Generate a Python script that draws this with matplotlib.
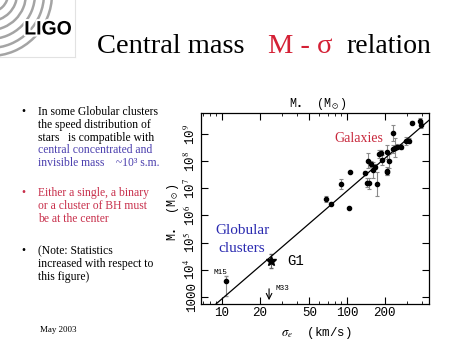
import matplotlib
matplotlib.use("Agg")
import matplotlib.pyplot as plt
import matplotlib.patheffects as pe
from matplotlib.patches import Arc
import numpy as np

plt.rcParams['mathtext.fontset'] = 'stix'

# DADOS
# galaxias: dispersao de velocidade (km/s), log10 da massa, erro (dex)
sigma_gal = [67.6, 74.5, 103.7, 89.5, 105.7, 139, 146, 143.6, 151, 155.6,
             160, 167.5, 175, 180, 187, 189.5, 208, 210, 210, 218,
             232, 235, 242, 250, 269, 297, 315, 333, 384, 389]
logm_gal = [6.60, 6.43, 6.29, 7.16, 7.61, 7.58, 8.01, 7.21, 7.19, 7.89,
            7.68, 7.80, 7.15, 8.26, 8.31, 8.04, 7.64, 7.59, 8.33, 8.00,
            9.03, 8.45, 8.50, 8.53, 8.53, 8.75, 8.75, 9.42, 9.49, 9.33]
err_gal = [0.12, 0.05, 0.0, 0.17, 0.0, 0.05, 0.28, 0.15, 0.2, 0.12,
           0.3, 0.1, 0.45, 0.15, 0.1, 0.2, 0.15, 0.1, 0.25, 0.25,
           0.3, 0.15, 0.35, 0.1, 0.1, 0.15, 0.1, 0.05, 0.1, 0.1]

# aglomerados globulares
m15_sigma, m15_logm, m15_lo, m15_hi = 10.7, 3.57, 0.55, 0.2
g1_sigma, g1_logm, g1_err = 24.7, 4.33, 0.25
m33_sigma, m33_logm = 23.8, 3.30

# reta M - sigma (extremos)
fit_sigma = [8.9, 460]
fit_logm = [2.73, 9.53]

xtick_vals = [10, 20, 50, 100, 200]
xtick_labels = ["10", "20", "50", "100", "200"]
ytick_vals = [1e3, 1e4, 1e5, 1e6, 1e7, 1e8, 1e9]
ytick_labels = ["1000", "10$^4$", "10$^5$", "10$^6$", "10$^7$", "10$^8$", "10$^9$"]

bullets = [
    (["In some Globular clusters", "the speed distribution of",
      "stars   is compatible with"], "black", 112, True),
    (["central concentrated and", "invisible mass    ~10\u00b3 s.m."], "#4b3fae", 150, False),
    (["Either a single, a binary", "or a cluster of BH must",
      "be at the center"], "#c8304c", 193, True),
    (["(Note: Statistics", "increased with respect to",
      "this figure)"], "black", 251, True),
]

W, H = 474, 355
fig = plt.figure(figsize=(W / 100, H / 100), dpi=100)

# FUNDO DO SLIDE EM PIXELS
bg = fig.add_axes([0, 0, 1, 1])
bg.set_xlim(0, W)
bg.set_ylim(H, 0)
bg.axis("off")

# LOGO
for r in [18, 27, 36, 45, 54, 62]:
    bg.add_patch(Arc((-10, -6), 2 * r, 2 * r, theta1=0, theta2=360,
                     color="#a4a4a4", lw=1.8))
bg.plot([75, 75], [0, 57], color="#e2e2e2", lw=0.8)
bg.plot([0, 75], [57, 57], color="#e2e2e2", lw=0.8)
bg.text(48, 30, "LIGO", family="Liberation Sans", weight="bold", fontsize=14,
        ha="center", va="center",
        path_effects=[pe.withStroke(linewidth=3, foreground="white")])

# TITULO
serif = "Liberation Serif"
bg.text(97, 53, "Central mass", family=serif, fontsize=20.5, va="baseline")
bg.text(268, 53, "M - \u03c3", family=serif, fontsize=20.5, va="baseline", color="#d42035")
bg.text(346, 53, "relation", family=serif, fontsize=20, va="baseline")

# TEXTO
for lines, color, y0, has_bullet in bullets:
    if has_bullet:
        bg.text(23, y0, "\u2022", family=serif, fontsize=8.4, color=color,
                ha="center", va="center")
    for i, line in enumerate(lines):
        bg.text(38, y0 + i * 12.8, line, family=serif, fontsize=8.4,
                color=color, va="center")
bg.text(40, 330, "May 2003", family=serif, fontsize=6.5, va="center")

# GRAFICO
ax = fig.add_axes([200.5 / W, 1 - 304 / H, 228.5 / W, 191 / H])
ax.set_xscale("log")
ax.set_yscale("log")

m_gal = 10 ** np.array(logm_gal)
e = np.array(err_gal)
ax.errorbar(sigma_gal, m_gal, yerr=[m_gal - m_gal * 10 ** -e, m_gal * 10 ** e - m_gal],
            fmt="none", ecolor="#8a8a8a", elinewidth=0.8, capsize=1.5, capthick=0.8)
ax.plot(sigma_gal, m_gal, "o", color="black", ms=3)

m15 = 10 ** m15_logm
ax.errorbar([m15_sigma], [m15], yerr=[[m15 - m15 * 10 ** -m15_lo], [m15 * 10 ** m15_hi - m15]],
            fmt="o", color="black", ms=3, ecolor="#8a8a8a", elinewidth=0.8,
            capsize=1.5)
g1 = 10 ** g1_logm
ax.errorbar([g1_sigma], [g1], yerr=[[g1 - g1 * 10 ** -g1_err], [g1 * 10 ** g1_err - g1]],
            fmt="*", color="black", ms=7, ecolor="#666666", elinewidth=0.8, capsize=1.5)
ax.annotate("", xy=(m33_sigma, 10 ** (m33_logm - 0.42)), xytext=(m33_sigma, 10 ** m33_logm),
            arrowprops=dict(arrowstyle="->", color="black", lw=0.8, shrinkA=0, shrinkB=0))

ax.plot(fit_sigma, 10 ** np.array(fit_logm), color="black", lw=0.9)

ax.set_xlim(6.73, 453)
ax.set_ylim(10 ** 2.74, 10 ** 9.77)

mono = "Liberation Mono"
ax.set_xticks(xtick_vals)
ax.set_xticklabels(xtick_labels, family=mono, fontsize=9)
ax.set_yticks(ytick_vals)
ax.set_yticklabels(ytick_labels, family=mono, fontsize=9, rotation=90, va="center")
ax.tick_params(which="both", direction="in", top=True, right=True)
ax.tick_params(which="major", length=5, width=0.8, pad=2)
ax.tick_params(which="minor", length=2.5, width=0.6)
for s in ax.spines.values():
    s.set_linewidth(0.9)

bg.text(318, 104, r"M$_\bullet$  (M$_\odot$)", family=mono, fontsize=8.5,
        ha="center", va="center")
bg.text(173, 212, r"M$_\bullet$  (M$_\odot$)", family=mono, fontsize=8.5,
        ha="center", va="center", rotation=90)
bg.text(316, 333, r"$\sigma_e$  (km/s)", family=mono, fontsize=9,
        ha="center", va="center")

# ROTULOS (em pixels, desenhados por cima do grafico)
px = bg.transData
ax.text(359, 138, "Galaxies", family=serif, fontsize=10, color="#c8283c",
        ha="center", va="center", transform=px)
ax.text(243, 231, "Globular", family=serif, fontsize=11, color="#2a2ab0",
        ha="center", va="center", transform=px)
ax.text(242, 249, "clusters", family=serif, fontsize=11, color="#2a2ab0",
        ha="center", va="center", transform=px)
ax.text(296, 261, "G1", family=mono, fontsize=10, ha="center", va="center", transform=px)
ax.text(220, 273, "M15", family=mono, fontsize=5.5, ha="center", va="center", transform=px)
ax.text(282, 289, "M33", family=mono, fontsize=5.5, ha="center", va="center", transform=px)

fig.savefig("out.png", dpi=100)
